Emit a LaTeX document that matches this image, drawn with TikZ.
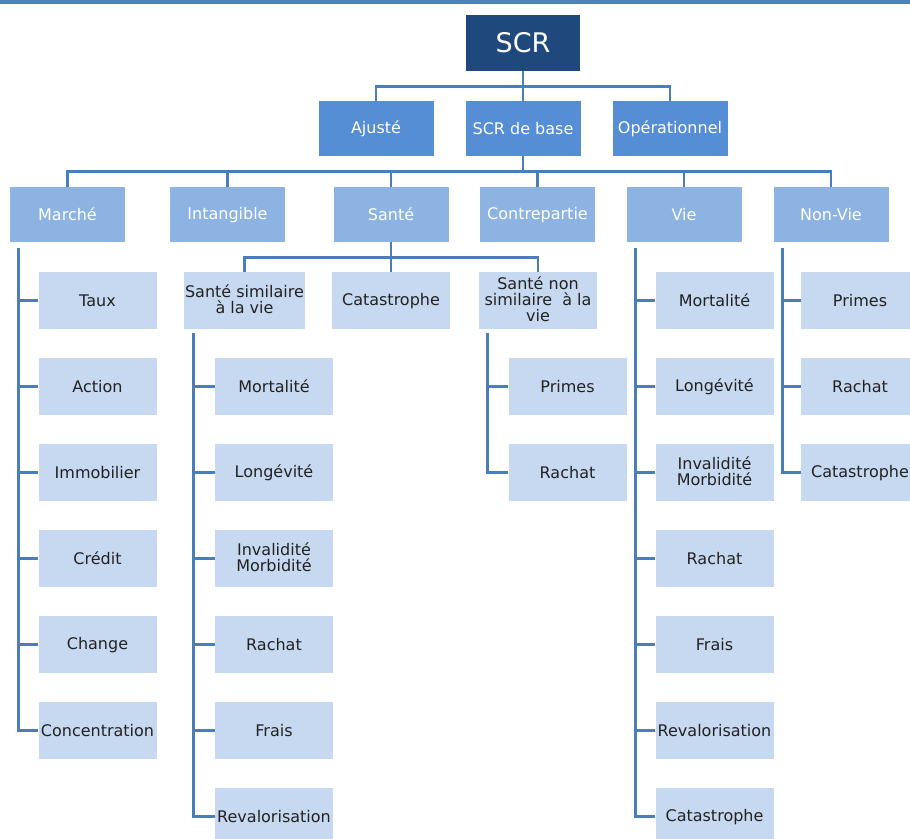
\documentclass[tikz,border=0pt]{standalone}
\usepackage{fontspec}
\setmainfont{DejaVu Sans}
\usetikzlibrary{calc}
\definecolor{cTop}{HTML}{1F497D}
\definecolor{cLtwo}{HTML}{558ED5}
\definecolor{cLthree}{HTML}{8DB3E2}
\definecolor{cLfour}{HTML}{C6D9F1}
\definecolor{cLine}{HTML}{4A7EBB}
\definecolor{cBar}{HTML}{4F81BD}
\definecolor{cText}{HTML}{222222}
\newcommand{\mystrut}{\rule[-2pt]{0pt}{15.7pt}}
\begin{document}
\begin{tikzpicture}[x=1pt,y=-1pt,
  box/.style={rectangle, inner sep=1pt, align=center, font=\fontsize{16}{16}\selectfont, execute at begin node={\mystrut}},
  lvone/.style={box, fill=cTop, text=white, minimum width=114pt, minimum height=56pt, font=\fontsize{27}{30}\selectfont, execute at begin node={}},
  lvtwo/.style={box, fill=cLtwo, text=white, minimum width=115pt, minimum height=55pt},
  lvthree/.style={box, fill=cLthree, text=white, minimum width=115pt, minimum height=55pt},
  lvfour/.style={box, fill=cLfour, text=cText, minimum width=118pt, minimum height=57pt},
  conn/.style={draw=cLine, line width=2.8pt}]
\useasboundingbox (0,0) rectangle (910,838);
\clip (0,0) rectangle (910,838);
\fill[cBar] (0,0) rectangle (910,4);

% level 1 and 2
\node[lvone] (scr) at (523,43) {SCR};
\node[lvtwo] (aj) at (376,128.5) {Ajusté};
\node[lvtwo] (base) at (523,128.5) {SCR de base};
\node[lvtwo] (op) at (670,128.5) {Opérationnel};

% level 3
\node[lvthree] (mar) at (67.5,214.5) {Marché};
\node[lvthree] (int) at (227.5,214.5) {Intangible};
\node[lvthree] (san) at (391,214.5) {Santé};
\node[lvthree] (con) at (537.5,214.5) {Contrepartie};
\node[lvthree] (vie) at (684,214.5) {Vie};
\node[lvthree] (nv) at (831,214.5) {Non-Vie};

% Santé sub-level
\node[lvfour] (ssv) at (244.5,300.5) {Santé similaire\\à la vie};
\node[lvfour] (cat) at (391,300.5) {Catastrophe};
\node[lvfour] (snsv) at (538,300.5) {Santé non\\similaire~ à la\\vie};

% Marché children
\foreach \t [count=\i] in {Taux, Action, Immobilier, Crédit, Change, Concentration}
  \node[lvfour] (m\i) at (97.5,{214.5+86*\i}) {\t};
% Santé similaire children
\foreach \t [count=\i] in {Mortalité, Longévité, {Invalidité\\Morbidité}, Rachat, Frais, Revalorisation}
  \node[lvfour] (s\i) at (274,{300.5+86*\i}) {\t};
% Santé non similaire children
\foreach \t [count=\i] in {Primes, Rachat}
  \node[lvfour] (n\i) at (567.5,{300.5+86*\i}) {\t};
% Vie children
\foreach \t [count=\i] in {Mortalité, Longévité, {Invalidité\\Morbidité}, Rachat, Frais, Revalorisation, Catastrophe}
  \node[lvfour] (v\i) at (714.5,{214.5+86*\i}) {\t};
% Non-Vie children
\foreach \t [count=\i] in {Primes, Rachat, Catastrophe}
  \node[lvfour] (w\i) at (860,{214.5+86*\i}) {\t};

% connectors level 1 -> 2
\draw[conn] (scr.south) -- (base.north);
\draw[conn] (aj.north) -- ++(0,-14) -| (op.north);

% connectors level 2 -> 3
\draw[conn] (base.south) -- ++(0,16);
\draw[conn] (mar.north) -- ++(0,-15) -| (nv.north);
\foreach \n in {int, san, con, vie}
  \draw[conn] (\n.north) -- ++(0,-15);

% Santé -> sub
\draw[conn] (san.south) -- (cat.north);
\draw[conn] (ssv.north) -- ++(0,-14) -| (snsv.north);

% trunks
\coordinate (mt) at ($(mar.south west)+(9,6)$);
\draw[conn] (mt) |- (m6.west);
\foreach \i in {1,...,5} \draw[conn] (m\i.west) -- (m\i.west -| mt);

\coordinate (st) at ($(ssv.south west)+(10,4)$);
\draw[conn] (st) |- (s6.west);
\foreach \i in {1,...,5} \draw[conn] (s\i.west) -- (s\i.west -| st);

\coordinate (nt) at ($(snsv.south west)+(9,4)$);
\draw[conn] (nt) |- (n2.west);
\draw[conn] (n1.west) -- (n1.west -| nt);

\coordinate (vt) at ($(vie.south west)+(9,6)$);
\draw[conn] (vt) |- (v7.west);
\foreach \i in {1,...,6} \draw[conn] (v\i.west) -- (v\i.west -| vt);

\coordinate (wt) at ($(nv.south west)+(9,6)$);
\draw[conn] (wt) |- (w3.west);
\foreach \i in {1,2} \draw[conn] (w\i.west) -- (w\i.west -| wt);
\end{tikzpicture}
\end{document}
